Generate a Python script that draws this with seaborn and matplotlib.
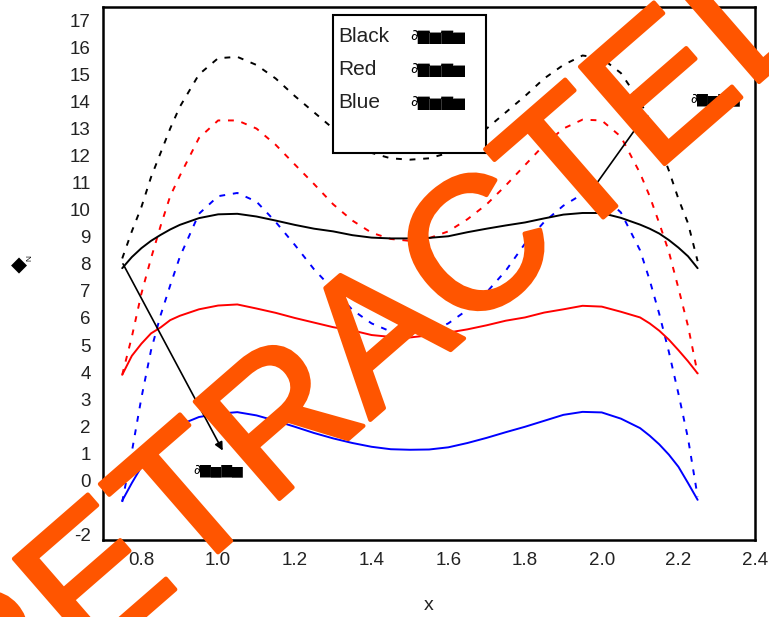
import numpy as np
import pandas as pd
import matplotlib
matplotlib.use("Agg")
import matplotlib.pyplot as plt
import seaborn as sns
from matplotlib import patheffects as pe
from matplotlib.ticker import MultipleLocator, FormatStrFormatter
from matplotlib.patches import Rectangle

# ---------------- data ----------------
x_vals = [0.75, 0.775, 0.8, 0.825, 0.85, 0.875, 0.9,
          0.95, 1.0, 1.05, 1.1, 1.15, 1.2, 1.25, 1.3, 1.35, 1.4, 1.45, 1.5,
          1.55, 1.6, 1.65, 1.7, 1.75, 1.8, 1.85, 1.9, 1.95, 2.0, 2.05,
          2.1, 2.125, 2.15, 2.175, 2.2, 2.225, 2.25]

black_solid = [7.84, 8.25, 8.58, 8.85, 9.07, 9.27, 9.44,
               9.69, 9.83, 9.85, 9.75, 9.6, 9.44, 9.3, 9.2, 9.06, 8.97, 8.94, 8.94,
               8.96, 9.02, 9.17, 9.3, 9.42, 9.53, 9.68, 9.82, 9.88, 9.88, 9.7,
               9.45, 9.3, 9.12, 8.88, 8.6, 8.28, 7.84]
black_dashed = [8.2, 9.2, 10.1, 11.2, 12.1, 13.0, 13.8,
                15.0, 15.6, 15.65, 15.35, 14.85, 14.2, 13.6, 13.0, 12.5, 12.1, 11.9, 11.85,
                11.9, 12.1, 12.5, 13.0, 13.6, 14.2, 14.85, 15.35, 15.7, 15.6, 15.05,
                14.0, 13.3, 12.4, 11.45, 10.4, 9.5, 8.1]
red_solid = [3.9, 4.6, 5.05, 5.43, 5.65, 5.92, 6.08,
             6.32, 6.46, 6.5, 6.35, 6.19, 6.0, 5.83, 5.66, 5.54, 5.37, 5.3, 5.28,
             5.36, 5.46, 5.58, 5.73, 5.9, 6.02, 6.2, 6.32, 6.45, 6.42, 6.23,
             6.02, 5.8, 5.53, 5.2, 4.81, 4.4, 3.95]
red_dashed = [3.9, 5.3, 6.9, 8.2, 9.4, 10.5, 11.25,
              12.65, 13.3, 13.3, 13.0, 12.4, 11.67, 10.95, 10.2, 9.6, 9.15, 8.92, 8.85,
              8.95, 9.2, 9.65, 10.2, 10.9, 11.65, 12.4, 13.0, 13.33, 13.3, 12.7,
              11.35, 10.5, 9.5, 8.45, 7.1, 5.7, 3.95]
blue_solid = [-0.75, -0.1, 0.5, 1.0, 1.45, 1.8, 2.05,
              2.34, 2.46, 2.52, 2.4, 2.2, 1.98, 1.75, 1.55, 1.38, 1.24, 1.15, 1.13,
              1.14, 1.22, 1.38, 1.57, 1.78, 1.98, 2.2, 2.42, 2.53, 2.51, 2.28,
              1.93, 1.65, 1.33, 0.95, 0.5, -0.1, -0.72]
blue_dashed = [-0.8, 1.05, 3.05, 4.8, 6.1, 7.2, 8.25,
               9.85, 10.5, 10.62, 10.3, 9.55, 8.7, 7.8, 7.05, 6.3, 5.8, 5.5, 5.38,
               5.48, 5.8, 6.3, 6.95, 7.75, 8.75, 9.55, 10.15, 10.58, 10.55, 9.9,
               8.5, 7.4, 6.15, 4.75, 3.2, 1.55, -0.6]

legend_names = ["Black", "Red", "Blue"]
garbled = "\u2202\u2587\u2586\u2587\u2586"
x_ticks = [0.8, 1.0, 1.2, 1.4, 1.6, 1.8, 2.0, 2.2, 2.4]
y_ticks = list(range(-2, 18))
watermark = "RETRACTED"

# ---------------- style ----------------
sns.set_style("white")
plt.rcParams['font.family'] = ['Liberation Sans', 'DejaVu Sans']
plt.rcParams['axes.unicode_minus'] = False

fig = plt.figure(figsize=(7.69, 6.17), dpi=100)
ax = fig.add_axes([0.134, 0.125, 0.848, 0.864])

series = [
    (black_dashed, "#000000", (0, (3, 4))),
    (red_dashed, "#ff0000", (0, (3, 4))),
    (blue_dashed, "#0000ff", (0, (3, 4))),
    (black_solid, "#000000", "-"),
    (red_solid, "#ff0000", "-"),
    (blue_solid, "#0000ff", "-"),
]
for ys, col, ls in series:
    df = pd.DataFrame({"x": x_vals, "y": ys})
    sns.lineplot(data=df, x="x", y="y", color=col, linestyle=ls, lw=1.4,
                 ax=ax, estimator=None, sort=False, legend=False)

ax.set_xlim(0.7, 2.4)
ax.set_ylim(-2.2, 17.5)
ax.set_xticks(x_ticks)
ax.set_yticks(y_ticks)
ax.xaxis.set_major_formatter(FormatStrFormatter('%.1f'))
ax.xaxis.set_minor_locator(MultipleLocator(0.1))
ax.yaxis.set_minor_locator(MultipleLocator(0.5))
ax.tick_params(axis='both', which='major', direction='in', length=7, width=1.5,
               labelsize=13.5, labelcolor='#222222', pad=9, top=False, right=False)
ax.tick_params(axis='both', which='minor', direction='in', length=3.5, width=1.3,
               top=False, right=False)
for s in ax.spines.values():
    s.set_color('black')
    s.set_linewidth(1.8)

ax.set_xlabel("x", fontsize=14, color='#222222', labelpad=20)
ax.set_ylabel("")

# y label (diamond symbol with small index)
fig.text(0.024, 0.570, "\u25c6", fontsize=15, color='black', ha='center', va='center',
         family=['DejaVu Sans'])
fig.text(0.039, 0.582, "N", fontsize=6, color='black', ha='center', va='center',
         rotation=90)

# legend box (text only)
ax.add_patch(Rectangle((1.30, 12.1), 0.398, 5.08, facecolor='white',
                       edgecolor='black', lw=1.5, zorder=5))
for i, name in enumerate(legend_names):
    yy = 16.4 - i * 1.22
    ax.text(1.313, yy, name, fontsize=15, ha='left', va='center', zorder=6,
            color='#222222')
    ax.text(1.502, yy, garbled, fontsize=11, ha='left', va='center', zorder=6,
            family=['DejaVu Sans'], color='black')

# annotations
ax.annotate("", xy=(1.012, 1.1), xytext=(0.752, 8.0),
            arrowprops=dict(arrowstyle='-|>', color='black', lw=1.2,
                            mutation_scale=12, shrinkA=0, shrinkB=0))
ax.text(0.935, 0.4, garbled, fontsize=10, ha='left', va='center',
        family=['DejaVu Sans'], color='black')
ax.annotate("", xy=(2.112, 13.46), xytext=(1.969, 10.62),
            arrowprops=dict(arrowstyle='-|>', color='black', lw=1.2,
                            mutation_scale=12, shrinkA=0, shrinkB=0))
ax.text(2.232, 14.1, garbled, fontsize=10, ha='left', va='center',
        family=['DejaVu Sans'], color='black')

# watermark
fig.text(0.5425, 0.3855, watermark, rotation=41, rotation_mode='anchor',
         ha='center', va='baseline', fontsize=135, color='#ff5500', zorder=100,
         path_effects=[pe.withStroke(linewidth=3, foreground='#ff5500')])

fig.savefig("out.png", dpi=100)
